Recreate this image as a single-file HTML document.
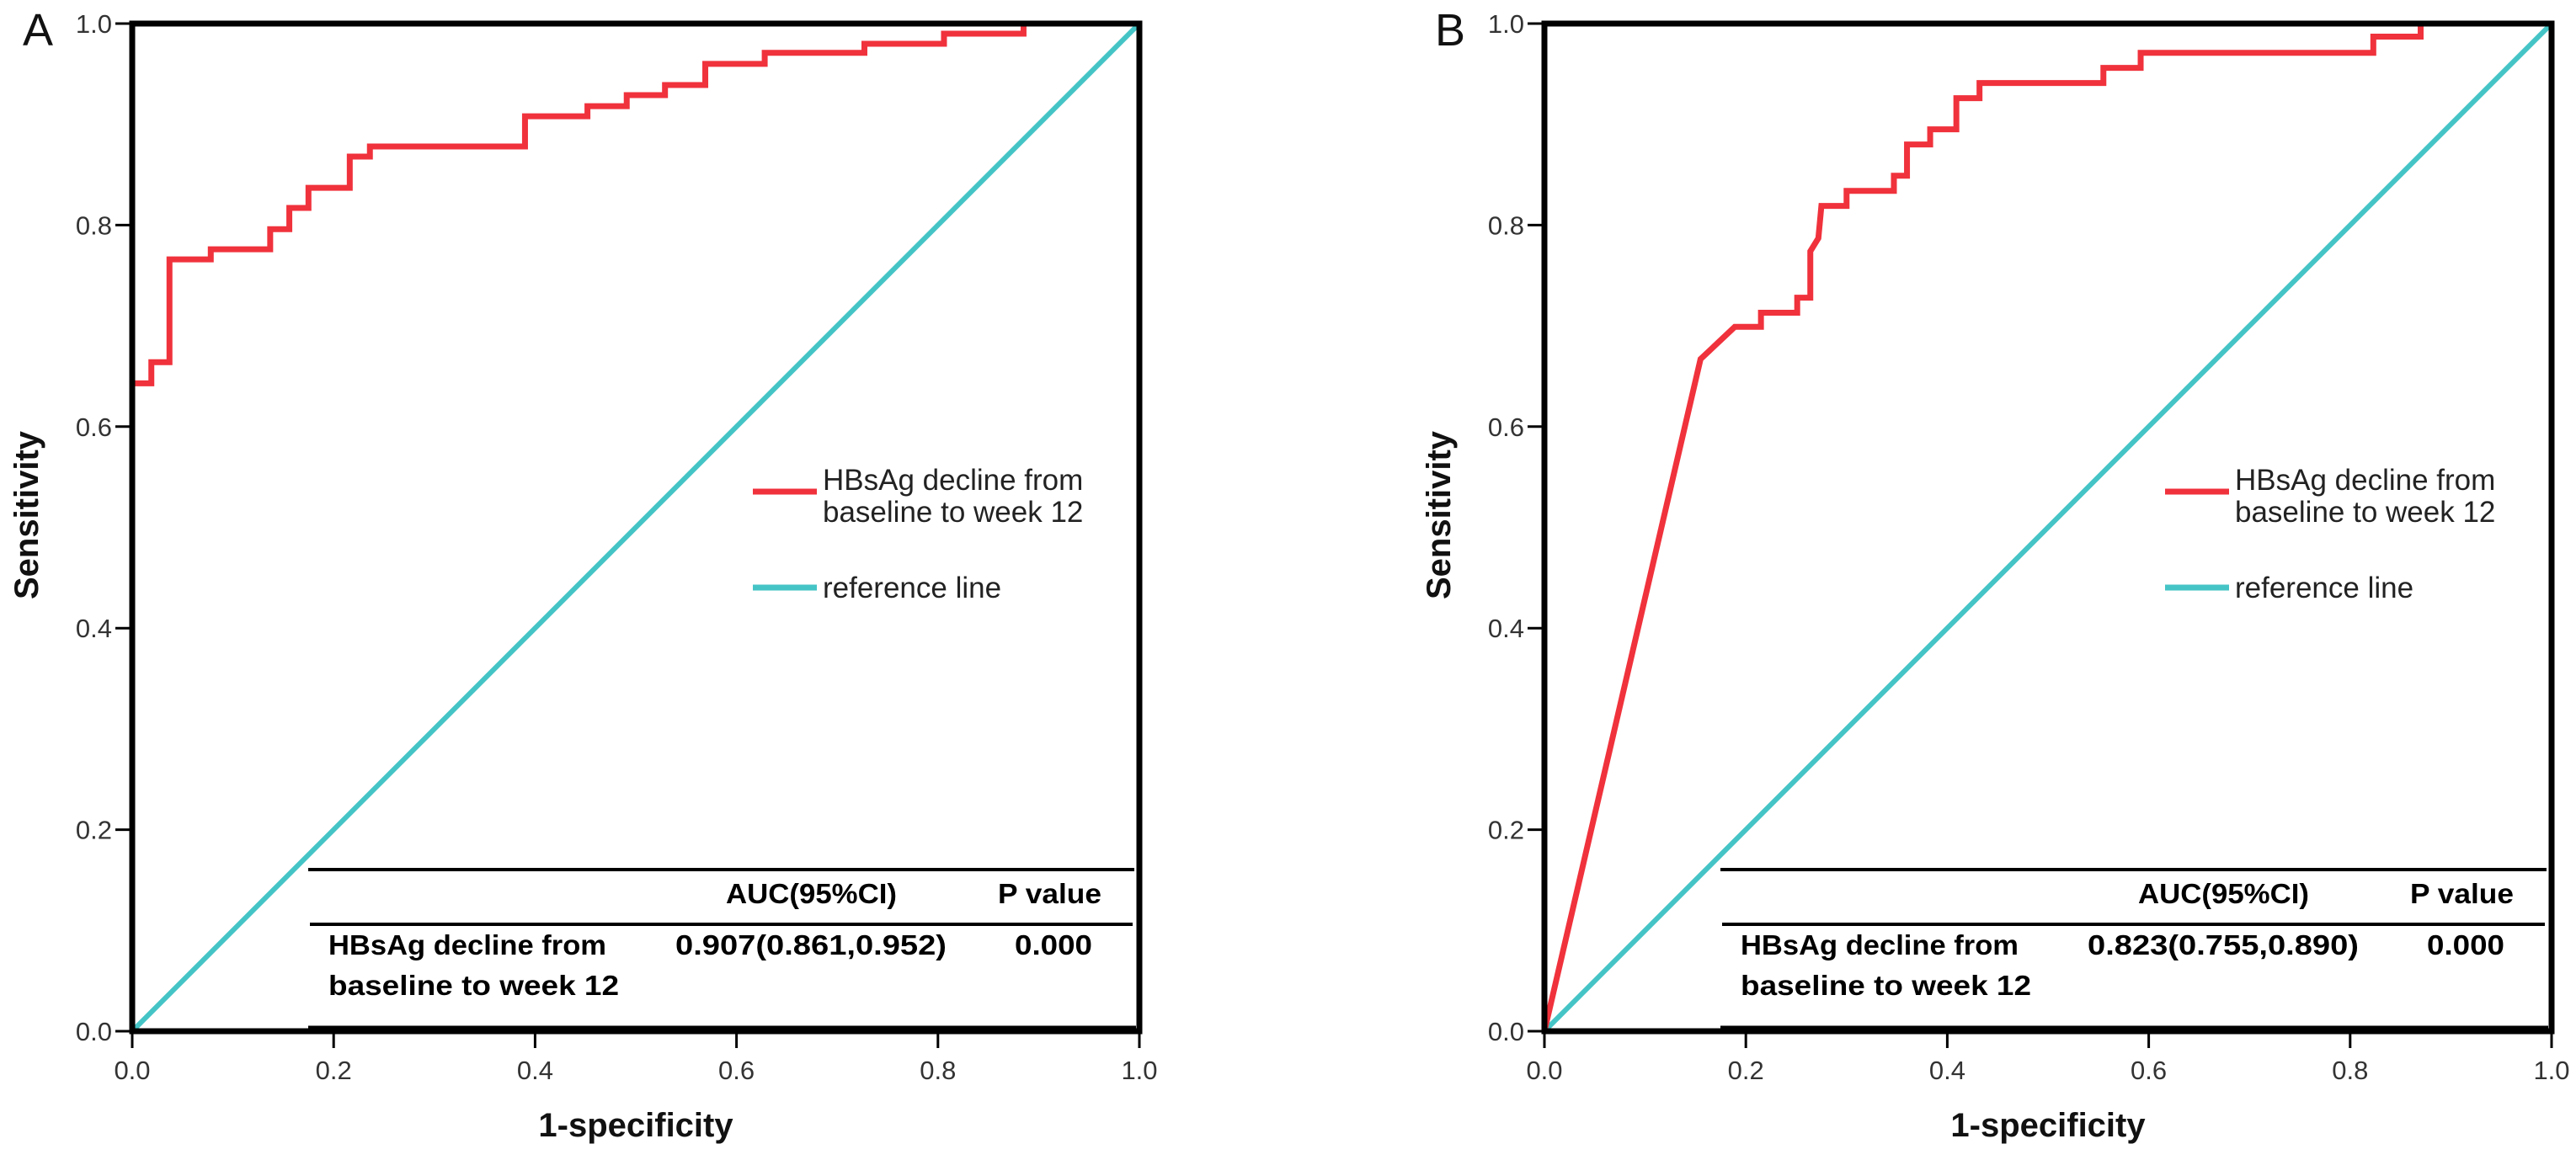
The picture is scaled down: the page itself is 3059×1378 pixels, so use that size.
<!DOCTYPE html>
<html><head><meta charset="utf-8">
<style>
html,body{margin:0;padding:0;background:#fff;}
svg{display:block;}
text{font-family:"Liberation Sans",sans-serif;}
</style></head>
<body>
<svg id="chart" width="3059" height="1378" viewBox="0 0 3059 1378" xmlns="http://www.w3.org/2000/svg"></svg>
<script>
// Panel A ROC (step curve) data
const rocAX = [0, 0, 0.019, 0.019, 0.037, 0.037, 0.078, 0.078, 0.137, 0.137, 0.156, 0.156, 0.175, 0.175, 0.216, 0.216, 0.236, 0.236, 0.390, 0.390, 0.452, 0.452, 0.491, 0.491, 0.529, 0.529, 0.569, 0.569, 0.628, 0.628, 0.727, 0.727, 0.806, 0.806, 0.885, 0.885, 1.0];
const rocAY = [0, 0.643, 0.643, 0.664, 0.664, 0.766, 0.766, 0.776, 0.776, 0.796, 0.796, 0.817, 0.817, 0.837, 0.837, 0.868, 0.868, 0.878, 0.878, 0.908, 0.908, 0.918, 0.918, 0.929, 0.929, 0.939, 0.939, 0.960, 0.960, 0.971, 0.971, 0.980, 0.980, 0.990, 0.990, 1.0, 1.0];
// Panel B ROC data
const rocBX = [0, 0.155, 0.189, 0.215, 0.215, 0.251, 0.251, 0.264, 0.264, 0.272, 0.275, 0.300, 0.300, 0.347, 0.347, 0.360, 0.360, 0.383, 0.383, 0.409, 0.409, 0.432, 0.432, 0.555, 0.555, 0.592, 0.592, 0.823, 0.823, 0.870, 0.870, 1.0];
const rocBY = [0, 0.667, 0.699, 0.699, 0.713, 0.713, 0.728, 0.728, 0.774, 0.787, 0.819, 0.819, 0.834, 0.834, 0.849, 0.849, 0.880, 0.880, 0.895, 0.895, 0.926, 0.926, 0.941, 0.941, 0.956, 0.956, 0.971, 0.971, 0.987, 0.987, 1.0, 1.0];
const refX = [0, 1];
const refY = [0, 1];
const tickVals = [0, 0.2, 0.4, 0.6, 0.8, 1.0];
const tickLabels = ["0.0", "0.2", "0.4", "0.6", "0.8", "1.0"];
const aucLabels = ["0.907(0.861,0.952)", "0.823(0.755,0.890)"];
const pLabels = ["0.000", "0.000"];
const panelLetters = ["A", "B"];

const NS = "http://www.w3.org/2000/svg";
const svg = document.getElementById("chart");
function mk(tag, attrs, parent) {
  const e = document.createElementNS(NS, tag);
  for (const k in attrs) e.setAttribute(k, attrs[k]);
  (parent || svg).appendChild(e);
  return e;
}

const panels = [
  {left: 157, rocX: rocAX, rocY: rocAY},
  {left: 1834, rocX: rocBX, rocY: rocBY}
];
const TOP = 28, SIZE = 1196, BOTTOM = 1225;

panels.forEach((p, i) => {
  const g = mk("g", {});
  
  
  const xs = v => p.left + v * SIZE;
  const ys = v => BOTTOM - v * (BOTTOM - TOP);

  const letter = mk("text", {x: p.left - 130, y: 54, "font-size": 54, fill: "#111"}, g);
  letter.textContent = panelLetters[i];
  
  

  // reference line
  const ref = mk("polyline", {points: refX.map((v, k) => xs(v) + "," + ys(refY[k])).join(" "), fill: "none", stroke: "#45c4c6", "stroke-width": 6}, g);
  
  

  // ROC curve
  const roc = mk("polyline", {points: p.rocX.map((v, k) => xs(v) + "," + ys(p.rocY[k])).join(" "), fill: "none", stroke: "#f0323c", "stroke-width": 7, "stroke-linejoin": "miter"}, g);
  
  

  // frame
  const frame = mk("rect", {x: xs(0), y: TOP, width: SIZE, height: BOTTOM - TOP, fill: "none", stroke: "#000", "stroke-width": 7}, g);
  
  

  // ticks
  tickVals.forEach((t, k) => {
    mk("line", {x1: xs(0) - 20, x2: xs(0), y1: ys(t), y2: ys(t), stroke: "#000", "stroke-width": 3}, g);
    const yl = mk("text", {x: xs(0) - 24, y: ys(t) + 11, "font-size": 31, "text-anchor": "end", fill: "#333"}, g);
    yl.textContent = tickLabels[k];
    
    
    mk("line", {x1: xs(t), x2: xs(t), y1: BOTTOM, y2: BOTTOM + 20, stroke: "#000", "stroke-width": 3}, g);
    const xl = mk("text", {x: xs(t), y: BOTTOM + 57, "font-size": 31, "text-anchor": "middle", fill: "#333"}, g);
    xl.textContent = tickLabels[k];
    
    
  });

  const yt = mk("text", {x: 0, y: 0, "font-size": 40, "font-weight": "bold", "text-anchor": "middle", fill: "#111", transform: "translate(" + (p.left - 112) + "," + 612 + ") rotate(-90)"}, g);
  yt.textContent = "Sensitivity";
  
  
  const xt = mk("text", {x: p.left + 598, y: 1350, "font-size": 40, "font-weight": "bold", "text-anchor": "middle", fill: "#111"}, g);
  xt.textContent = "1-specificity";
  
  

  // legend
  const lg = mk("g", {}, g);
  
  
  const L = p.left;
  mk("line", {x1: L + 737, x2: L + 813, y1: 584, y2: 584, stroke: "#f0323c", "stroke-width": 7}, lg);
  const t1 = mk("text", {x: L + 820, y: 582, "font-size": 35, fill: "#222"}, lg);
  t1.textContent = "HBsAg decline from";
  
  
  const t2 = mk("text", {x: L + 820, y: 620, "font-size": 35, fill: "#222"}, lg);
  t2.textContent = "baseline to week 12";
  
  
  mk("line", {x1: L + 737, x2: L + 813, y1: 698, y2: 698, stroke: "#45c4c6", "stroke-width": 7}, lg);
  const t3 = mk("text", {x: L + 820, y: 710, "font-size": 35, fill: "#222"}, lg);
  t3.textContent = "reference line";
  
  

  // AUC table
  const tb = mk("g", {}, g);
  
  
  mk("line", {x1: L + 209, x2: L + 1190, y1: 1033, y2: 1033, stroke: "#000", "stroke-width": 4}, tb);
  mk("line", {x1: L + 211, x2: L + 1188, y1: 1098, y2: 1098, stroke: "#000", "stroke-width": 4}, tb);
  mk("line", {x1: L + 209, x2: L + 1192, y1: 1221, y2: 1221, stroke: "#000", "stroke-width": 5}, tb);
  const tx = (s, x, y, anchor, len) => {
    const e = mk("text", {x: x, y: y, "font-size": 33, "font-weight": "bold", fill: "#000", "text-anchor": anchor || "start", textLength: len, lengthAdjust: "spacingAndGlyphs"}, tb);
    e.textContent = s;
    return e;
  };
  tx("AUC(95%CI)", L + 705, 1073, "start", 203);
  tx("P value", L + 1028, 1073, "start", 123);
  tx("HBsAg decline from", L + 233, 1134, "start", 330);
  tx("baseline to week 12", L + 233, 1182, "start", 345);
  tx(aucLabels[i], L + 645, 1134, "start", 322);
  tx(pLabels[i], L + 1048, 1134, "start", 92);
});
</script>
</body></html>
